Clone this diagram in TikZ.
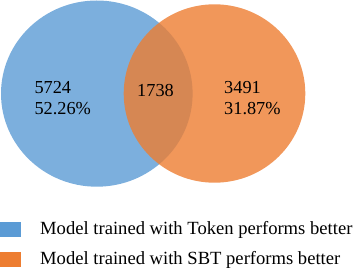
\documentclass[tikz,border=0pt]{standalone}
\usepackage{fontspec}
\setmainfont{Liberation Serif}
\definecolor{tokblue}{HTML}{5B9BD5}
\definecolor{sbtorange}{HTML}{ED7D31}
\begin{document}
\begin{tikzpicture}[x=1pt,y=-1pt,
  setfill/.style={fill=#1,fill opacity=0.8,draw=none},
  lbl/.style={anchor=base west,inner sep=0pt,font=\fontsize{18.3}{22}\selectfont},
  legtext/.style={anchor=base west,inner sep=0pt,font=\fontsize{18.6}{22}\selectfont},
  legbox/.style={fill=#1,draw=none,minimum width=20.5pt,minimum height=14.5pt,inner sep=0pt,anchor=north west}]
\useasboundingbox (0,0) rectangle (359,275);
\fill[setfill=tokblue] (96.8,93.6) ellipse [x radius=95.8, y radius=93.1];
\fill[setfill=sbtorange] (214.5,93.5) ellipse [x radius=90.8, y radius=89.2];
\node[lbl] (a1) at (34.3,93.3) {5724};
\node[lbl] (a2) at (34.3,115) {52.26\%};
\node[lbl] (c1) at (137,96.7) {1738};
\node[lbl] (b1) at (224,93.3) {3491};
\node[lbl] (b2) at (224,115) {31.87\%};
\node[legbox=tokblue] (k1) at (0,222.3) {};
\node[legbox=sbtorange] (k2) at (0,252.3) {};
\node[legtext] (t1) at (40,235) {Model trained with Token performs better};
\node[legtext] (t2) at (40,265) {Model trained with SBT performs better};
\end{tikzpicture}
\end{document}
